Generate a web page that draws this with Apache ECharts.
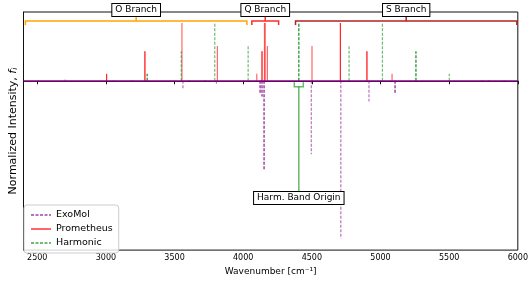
<!DOCTYPE html>
<html>
<head>
<meta charset="utf-8">
<script src="https://cdn.jsdelivr.net/npm/echarts@6/dist/echarts.min.js"></script>
<style>
html,body{margin:0;padding:0;background:#fff;}
#main{width:531px;height:281px;}
</style>
</head>
<body>
<div id="main"></div>
<script>
// wavenumbers [cm-1] and normalized intensities
// (repeated entries = overlapping transitions, they show darker)
var promWn  = [2704, 3005, 3005, 3188, 3284, 3284, 3554, 3607, 3723, 3812, 4099, 4137, 4137, 4155, 4160, 4176, 4501, 4708, 4708, 4901, 4901, 5084, 5740, 5790, 5900];
var promInt = [0.02, 0.12, 0.12, 0.015, 0.51, 0.51, 1.0, 0.015, 0.015, 0.6, 0.12, 0.51, 0.51, 1.0, 1.0, 0.6, 0.6, 1.0, 1.0, 0.51, 0.51, 0.12, 0.015, 0.015, 0.015];

var harmWn  = [3056, 3301, 3301, 3549, 3793, 4036, 4405, 4405, 4771, 5014, 5258, 5258, 5501];
var harmInt = [0.015, 0.12, 0.12, 0.51, 1.0, 0.6, 1.0, 1.0, 0.6, 1.0, 0.51, 0.51, 0.12];

var exoWn  = [3561, 3805, 4123, 4123, 4137, 4137, 4152, 4152, 4496, 4711, 4916, 5106, 5106];
var exoInt = [-0.14, -0.05, -0.22, -0.22, -0.27, -0.27, -1.53, -1.53, -1.27, -2.73, -0.36, -0.22, -0.22];

// branch brackets
var branchNames = ['O Branch', 'Q Branch', 'S Branch'];
var branchStart = [2414, 4063, 4381];
var branchEnd   = [4027, 4258, 5993];
var branchColors = ['#ffa500', '#ff2a2a', '#b22222'];
var bracketY = 1.034;

// band origin note
var bandOrigin = 4405;
var bandLabelY = -2.03;

var FONT = 'DejaVu Sans';

function pairs(xs, ys){
	var out = [];
	for(var i=0;i<xs.length;i++){
		out.push([xs[i], ys[i]]);
	}
	return out;
}

function stickRender(color, dash){
	return function(params, api){
		var p0 = api.coord([api.value(0), 0]);
		var p1 = api.coord([api.value(0), api.value(1)]);
		return {
			type: 'line',
			shape: {x1: p0[0], y1: p0[1], x2: p1[0], y2: p1[1]},
			style: {stroke: color, lineWidth: 1.2, lineDash: dash}
		};
	};
}

var chart = echarts.init(document.getElementById('main'));

var option = {
	animation: false,
	textStyle: {fontFamily: FONT},
	grid: {
		left: 21, right: 12, top: 12, bottom: 26,
		show: true, borderColor: '#111', borderWidth: 1, backgroundColor: 'transparent'
	},
	legend: {
		orient: 'vertical',
		left: 24, top: 205,
		padding: [5, 6],
		itemWidth: 20, itemHeight: 9, itemGap: 4,
		borderColor: '#ccc', borderWidth: 1, borderRadius: 3,
		backgroundColor: 'rgba(255,255,255,0.8)',
		itemStyle: {opacity: 0},
		textStyle: {fontFamily: FONT, fontSize: 9.5, color: '#000'},
		data: ['ExoMol', 'Prometheus', 'Harmonic']
	},
	xAxis: {
		type: 'value',
		min: 2400, max: 6000,
		splitNumber: 7,
		name: 'Wavenumber [cm\u207b\u00b9]',
		nameLocation: 'middle',
		nameGap: 11,
		nameTextStyle: {fontFamily: FONT, fontSize: 9, color: '#000'},
		axisLine: {lineStyle: {color: '#111'}},
		axisTick: {length: 3.5, lineStyle: {color: '#111'}},
		axisLabel: {
			fontFamily: FONT, fontSize: 8, color: '#000', margin: 4,
			showMinLabel: false,
			formatter: function(v){ return v % 500 === 0 ? String(v) : ''; }
		},
		splitLine: {show: false}
	},
	yAxis: {
		type: 'value',
		min: -2.93, max: 1.19,
		name: '{n|Normalized Intensity, }{f|f}{s|i}',
		nameLocation: 'middle',
		nameGap: 4,
		nameTextStyle: {
			fontFamily: FONT, fontSize: 11, color: '#000',
			rich: {
				n: {fontFamily: FONT, fontSize: 11, color: '#000'},
				f: {fontFamily: FONT, fontSize: 11, fontStyle: 'italic', color: '#000'},
				s: {fontFamily: FONT, fontSize: 7.5, fontStyle: 'italic', color: '#000', padding: [4, 0, 0, 0]}
			}
		},
		axisLine: {show: true, lineStyle: {color: '#111'}},
		axisTick: {show: false},
		axisLabel: {show: false},
		splitLine: {show: false}
	},
	series: [
		// legend entries only
		{name: 'ExoMol', type: 'line', data: [], symbol: 'none', showSymbol: false,
			lineStyle: {color: 'rgba(128,0,128,0.55)', type: [3, 1.5], width: 1.2}, itemStyle: {color: 'rgba(128,0,128,0.55)'}},
		{name: 'Prometheus', type: 'line', data: [], symbol: 'none', showSymbol: false,
			lineStyle: {color: 'rgba(255,0,0,0.6)', width: 2}, itemStyle: {color: 'rgba(255,0,0,0.6)'}},
		{name: 'Harmonic', type: 'line', data: [], symbol: 'none', showSymbol: false,
			lineStyle: {color: 'rgba(0,128,0,0.55)', type: [3, 1.5], width: 1.2}, itemStyle: {color: 'rgba(0,128,0,0.55)'}},

		{
			id: 'prom', type: 'custom', silent: true, z: 3,
			data: pairs(promWn, promInt),
			encode: {x: 0, y: 1},
			renderItem: stickRender('rgba(255,0,0,0.6)', null)
		},
		{
			id: 'harm', type: 'custom', silent: true, z: 4,
			data: pairs(harmWn, harmInt),
			encode: {x: 0, y: 1},
			renderItem: stickRender('rgba(0,128,0,0.55)', [3, 1.5])
		},
		{
			id: 'exo', type: 'custom', silent: true, z: 4,
			data: pairs(exoWn, exoInt),
			encode: {x: 0, y: 1},
			renderItem: stickRender('rgba(128,0,128,0.55)', [3, 1.5]),
			markLine: {
				silent: true, symbol: 'none', label: {show: false},
				lineStyle: {color: '#800080', width: 1.6, type: 'solid'},
				data: [{yAxis: 0}]
			}
		},
		{
			id: 'branches', type: 'custom', silent: true, z: 6, clip: false,
			data: branchStart.map(function(s, i){ return [s, branchEnd[i], i]; }),
			encode: {x: [0, 1]},
			renderItem: function(params, api){
				var idx = api.value(2);
				var a = api.coord([api.value(0), bracketY]);
				var b = api.coord([api.value(1), bracketY]);
				var mid = (a[0] + b[0]) / 2;
				var c = branchColors[idx];
				return {
					type: 'group',
					children: [
						{type: 'polyline', shape: {points: [[a[0], a[1] + 4], [a[0], a[1]], [b[0], b[1]], [b[0], b[1] + 4]]},
							style: {stroke: c, lineWidth: 1.5, fill: null}},
						{type: 'line', shape: {x1: mid, y1: a[1], x2: mid, y2: a[1] - 4},
							style: {stroke: c, lineWidth: 1.5}},
						{type: 'text', x: mid, y: a[1] - 11,
							style: {text: branchNames[idx], align: 'center', verticalAlign: 'middle',
								font: '9px "DejaVu Sans"', fill: '#000',
								backgroundColor: '#fff', borderColor: '#000', borderWidth: 1, padding: [2, 3, 1, 3]}}
					]
				};
			}
		},
		{
			id: 'origin', type: 'custom', silent: true, z: 6, clip: false,
			data: [[bandOrigin, bandLabelY]],
			encode: {x: 0, y: 1},
			renderItem: function(params, api){
				var base = api.coord([api.value(0), 0]);
				var lab = api.coord([api.value(0), api.value(1)]);
				var x = base[0];
				var by = base[1] + 6;
				var col = 'rgba(0,140,0,0.6)';
				return {
					type: 'group',
					children: [
						{type: 'polyline', shape: {points: [[x - 4.5, by - 4.5], [x - 4.5, by], [x + 4.5, by], [x + 4.5, by - 4.5]]},
							style: {stroke: col, lineWidth: 1.5, fill: null}},
						{type: 'line', shape: {x1: x, y1: by, x2: x, y2: lab[1] - 6},
							style: {stroke: col, lineWidth: 1.5}},
						{type: 'text', x: x, y: lab[1],
							style: {text: 'Harm. Band Origin', align: 'center', verticalAlign: 'middle',
								font: '9px "DejaVu Sans"', fill: '#000',
								backgroundColor: '#fff', borderColor: '#000', borderWidth: 1, padding: [2, 3, 1, 3]}}
					]
				};
			}
		}
	]
};

chart.setOption(option);
</script>
</body>
</html>
